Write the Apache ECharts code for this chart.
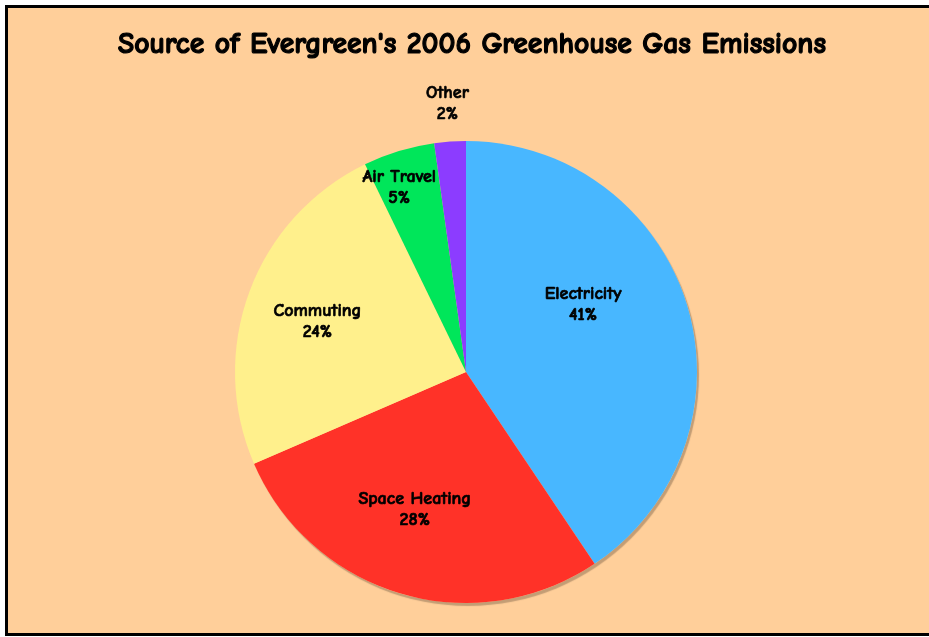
<!DOCTYPE html>
<html>
<head>
<meta charset="utf-8">
<script src="https://cdn.jsdelivr.net/npm/echarts@6/dist/echarts.min.js"></script>
<style>
  html, body { margin: 0; padding: 0; background: #ffffff; width: 929px; height: 637px; overflow: hidden; }
  #frame { position: absolute; left: 5px; top: 5px; width: 960px; height: 625px; border: 3px solid #000; background: #FFCF9A; }
  #chart { position: absolute; left: 0; top: 0; width: 929px; height: 637px; }
</style>
</head>
<body>
<div id="frame"></div>
<div id="chart"></div>
<script>
const titleText = "Source of Evergreen's 2006 Greenhouse Gas Emissions";
const categories = ['Electricity', 'Space Heating', 'Commuting', 'Air Travel', 'Other'];
const values = [40.6, 27.9, 24.3, 5.0, 2.2];
const colors = ['#48B7FF', '#FF3228', '#FFF08C', '#00E65A', '#8C3CFF'];
// label layout only: distance from the pie centre and small angular nudge (degrees, clockwise)
const labelRadius = [132, 144, 154, 193, 266];
const labelAngleShift = [-13, 4, -1.5, -3, 0];

const FONT = '"Comic Sans MS", "Comic Neue", Lato, sans-serif';
const CENTER = [466, 372];
const R = 231;

const chart = echarts.init(document.getElementById('chart'), null, { renderer: 'canvas' });

const series = [];
// drop shadow under the pie
series.push({
  type: 'pie', silent: true, center: CENTER, radius: R, startAngle: 90,
  label: { show: false }, labelLine: { show: false }, emphasis: { disabled: true },
  data: [{ value: 1, name: 'shadow' }],
  itemStyle: { color: '#FFCF9A', borderWidth: 0, shadowColor: 'rgba(40,30,20,0.28)', shadowBlur: 1, shadowOffsetX: 2, shadowOffsetY: 3 }
});
// main pie
series.push({
  type: 'pie', center: CENTER, radius: R, startAngle: 90, clockwise: true,
  percentPrecision: 0,
  label: { show: false }, labelLine: { show: false },
  emphasis: { disabled: true },
  itemStyle: { borderWidth: 0 },
  data: categories.map((c, i) => ({ name: c, value: values[i], itemStyle: { color: colors[i] } }))
});
// label-only pies, one per category, so each label sits at its own place
categories.forEach((c, k) => {
  series.push({
    type: 'pie', silent: true, center: CENTER, radius: [0, labelRadius[k] * 2],
    startAngle: 90 - labelAngleShift[k], clockwise: true,
    percentPrecision: 0,
    emphasis: { disabled: true },
    labelLine: { show: false },
    itemStyle: { color: 'rgba(0,0,0,0)', borderWidth: 0 },
    label: {
      position: 'inside', formatter: '{b}\n{d}%', color: '#000',
      fontFamily: FONT, fontWeight: 'bold', fontSize: 18, lineHeight: 21,
      textBorderColor: '#000', textBorderWidth: 0.7, padding: [8, 0, 0, 0]
    },
    data: categories.map((n, i) => ({ name: n, value: values[i], label: { show: i === k } }))
  });
});

chart.setOption({
  backgroundColor: 'transparent',
  animation: false,
  tooltip: { show: false },
  graphic: [{
    type: 'text', z: 100,
    style: { text: titleText, x: 472, y: 45, align: 'center', verticalAlign: 'middle',
      font: 'bold 29.6px ' + FONT, fill: '#000', stroke: '#000', lineWidth: 1.2 }
  }],
  series: series
});
</script>
</body>
</html>
